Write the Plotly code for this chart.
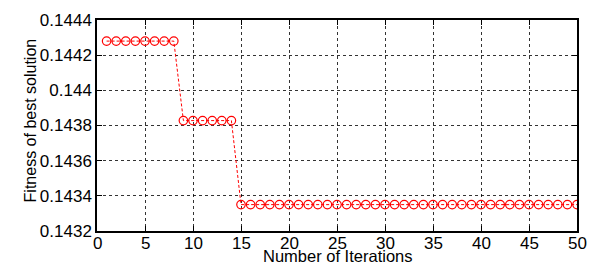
import plotly.graph_objects as go

iterations = list(range(1, 51))
fitness = [0.14428] * 8 + [0.143828] * 6 + [0.14335] * 36

x_ticks = [0, 5, 10, 15, 20, 25, 30, 35, 40, 45, 50]
y_ticks = [0.1432, 0.1434, 0.1436, 0.1438, 0.144, 0.1442, 0.1444]
y_tick_text = ["0.1432", "0.1434", "0.1436", "0.1438", "0.144", "0.1442", "0.1444"]

FONT = "Liberation Sans, Arial, sans-serif"

fig = go.Figure()
fig.add_trace(go.Scatter(
    x=iterations, y=fitness, mode="lines+markers",
    line=dict(color="#ff0000", width=1, dash="3px,2px"),
    marker=dict(symbol="circle-open", size=8.5, color="#ff0000", line=dict(width=1.2, color="#ff0000")),
    showlegend=False,
))

axis_common = dict(
    showline=True, linecolor="black", linewidth=1.5, mirror="ticks",
    ticks="inside", ticklen=5, tickcolor="black",
    showgrid=True, gridcolor="rgba(0,0,0,0.8)", griddash="dot", gridwidth=1,
    zeroline=False, automargin=False,
    tickfont=dict(family=FONT, size=17, color="black"),
)

fig.update_xaxes(range=[0, 50], tickvals=x_ticks, showticklabels=False, **axis_common)
fig.update_yaxes(range=[0.1432, 0.1444], tickvals=y_ticks, ticktext=y_tick_text, **axis_common)

annotations = [
    dict(text=str(t), xref="x", yref="paper", x=t, y=-0.008,
         xanchor="center", yanchor="top", showarrow=False,
         font=dict(family=FONT, size=17, color="black"), borderpad=0)
    for t in x_ticks
]
annotations += [
    dict(text="Number of Iterations", xref="paper", yref="paper", x=0.5, y=-0.168,
         xanchor="center", yanchor="bottom", showarrow=False, borderpad=0,
         font=dict(family=FONT, size=16.5, color="black")),
    dict(text="Fitness of best solution", xref="paper", yref="paper", x=-0.1396, y=0.524,
         xanchor="center", yanchor="middle", showarrow=False, textangle=-90,
         font=dict(family=FONT, size=16, color="black")),
]

fig.update_layout(
    width=592, height=267,
    margin=dict(l=97, r=15, t=20, b=36),
    paper_bgcolor="white", plot_bgcolor="white",
    annotations=annotations,
)

fig.write_html("out.html", config={"displayModeBar": False},
               post_script="document.body.style.margin='0px';document.body.style.overflow='hidden';")
